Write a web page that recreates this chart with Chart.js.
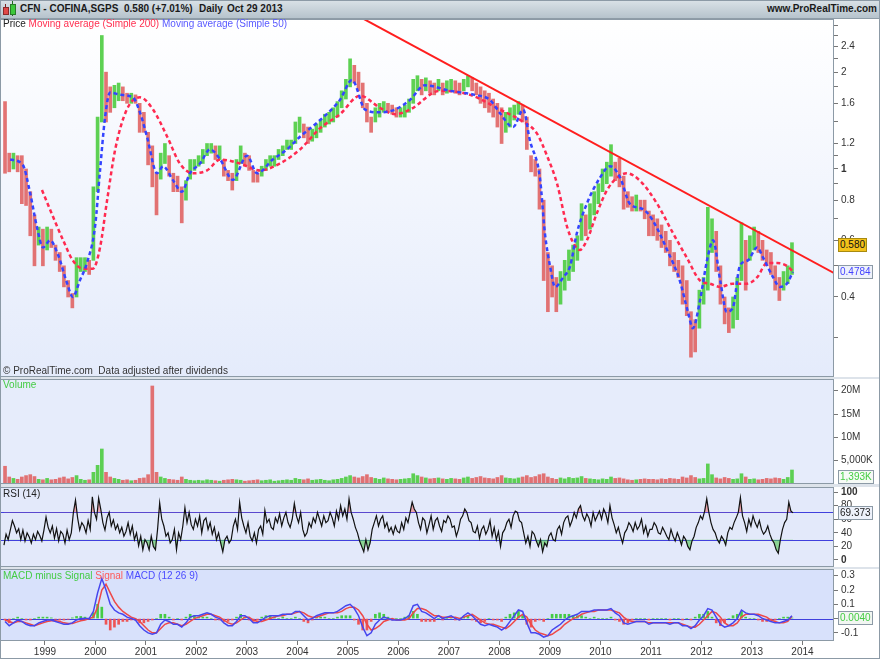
<!DOCTYPE html>
<html>
<head>
<meta charset="utf-8">
<title>CFN - COFINA,SGPS</title>
<script src="https://cdn.jsdelivr.net/npm/chart.js@4.4.1/dist/chart.umd.min.js"></script>
<style>
  body { margin: 0; background: #ffffff; }
  #wrap { position: relative; width: 880px; height: 659px; overflow: hidden; background: #dde3ea;
          font-family: "Liberation Sans", Arial, sans-serif; font-size: 10px; }
  canvas { position: absolute; left: 0; }
  #head { position: absolute; left: 0; top: 0; width: 880px; height: 18px; z-index: 2;
          background: linear-gradient(#dae2e7, #b6c3cc); border-bottom: 1px solid #8e9ca7; }
  .h { position: absolute; top: 3px; font-weight: bold; font-size: 10px; color: #1a1a1a; white-space: nowrap; line-height: 12px; }
  .lbl { position: absolute; left: 3px; white-space: nowrap; line-height: 12px; font-size: 10px; z-index: 2; }
  .box { position: absolute; left: 838px; font-size: 10px; line-height: 10px; padding: 1px 1px; border: 1px solid #8c9aa6; z-index: 3; white-space: nowrap; }
  #frame { position: absolute; left: 0; top: 0; width: 878px; height: 657px; border: 1px solid #8c9aa6; z-index: 4; pointer-events: none; }
</style>
</head>
<body>
<div id="wrap">
  <canvas id="cPrice" width="880" height="358" style="top:19px"></canvas>
  <canvas id="cVol" width="880" height="105" style="top:379px"></canvas>
  <canvas id="cRsi" width="880" height="80" style="top:487px"></canvas>
  <canvas id="cMacd" width="880" height="90" style="top:569px"></canvas>

  <div id="head">
    <div style="position:absolute;left:5px;top:4px;width:1px;height:11px;background:#7a2020"></div>
    <div style="position:absolute;left:3px;top:7px;width:4px;height:6px;background:#e04848;border:1px solid #8a2a2a"></div>
    <div style="position:absolute;left:12px;top:1px;width:1px;height:15px;background:#206a20"></div>
    <div style="position:absolute;left:10px;top:4px;width:4px;height:9px;background:#3cc83c;border:1px solid #2a7a2a"></div>
    <span class="h" style="left:20px">CFN - COFINA,SGPS</span>
    <span class="h" style="left:124px">0.580 (+7.01%)</span>
    <span class="h" style="left:199px">Daily</span>
    <span class="h" style="left:227px">Oct 29 2013</span>
    <span class="h" style="right:3px">www.ProRealTime.com</span>
  </div>

  <div class="lbl" style="top:18px"><span style="color:#222">Price</span> <span style="color:#ff3050">Moving average (Simple 200)</span> <span style="color:#5a5aff">Moving average (Simple 50)</span></div>
  <div class="lbl" style="top:365px;color:#333">&copy; ProRealTime.com&nbsp; Data adjusted after dividends</div>
  <div class="lbl" style="top:379px;color:#44cc44">Volume</div>
  <div class="lbl" style="top:488px;color:#222">RSI (14)</div>
  <div class="lbl" style="top:570px"><span style="color:#44cc44">MACD minus Signal</span> <span style="color:#ff5a5a">Signal</span> <span style="color:#4a4aff">MACD (12 26 9)</span></div>

  <div class="box" id="bClose" style="background:#f3c21a;color:#111;border-color:#a88a10">0.580</div>
  <div class="box" id="bMa" style="background:#eef2fb;color:#4444ff">0.4784</div>
  <div class="box" id="bVol" style="background:#f6faf6;color:#44cc44">1,393K</div>
  <div class="box" id="bRsi" style="background:#eef2fb;color:#222">69.373</div>
  <div class="box" id="bMacd" style="background:#f2f6f2;color:#44cc44">0.0040</div>
  <div id="frame"></div>
</div>

<script>
// time axis: decimal years
var xMin = 1998.109;
var xMax = 2014.624;
var firstMonth = 1998 + 2 / 12; // March 1998
var yearTicks = [1999, 2000, 2001, 2002, 2003, 2004, 2005, 2006, 2007, 2008, 2009, 2010, 2011, 2012, 2013, 2014];

// monthly price range (low / high), Mar 1998 .. Oct 2013
var priceLow = [
  0.97, 0.98, 1.00, 0.98, 0.78, 0.77, 0.62, 0.50, 0.58, 0.50,              // 1998
  0.56, 0.57, 0.52, 0.48, 0.43, 0.40, 0.37, 0.40, 0.48, 0.48, 0.47, 0.52,  // 1999
  0.85, 1.40, 1.40, 1.50, 1.55, 1.63, 1.63, 1.60, 1.60, 1.60, 1.30, 1.30,  // 2000
  1.03, 0.88, 0.72, 0.93, 1.04, 0.95, 0.85, 0.85, 0.68, 0.80, 0.93, 0.99,  // 2001
  1.02, 1.04, 1.10, 1.12, 1.07, 1.07, 0.95, 0.92, 0.86, 0.92, 1.04, 1.02,  // 2002
  0.99, 0.91, 0.91, 0.95, 0.99, 1.02, 1.02, 1.07, 1.10, 1.15, 1.15, 1.20,  // 2003
  1.30, 1.25, 1.20, 1.22, 1.25, 1.30, 1.35, 1.38, 1.40, 1.45, 1.55, 1.65,  // 2004
  1.80, 1.85, 1.75, 1.55, 1.40, 1.30, 1.40, 1.45, 1.50, 1.50, 1.48, 1.45,  // 2005
  1.45, 1.45, 1.50, 1.60, 1.75, 1.70, 1.75, 1.72, 1.70, 1.75, 1.70, 1.72,  // 2006
  1.75, 1.72, 1.70, 1.75, 1.80, 1.75, 1.70, 1.60, 1.55, 1.50, 1.45, 1.35,  // 2007
  1.20, 1.30, 1.35, 1.42, 1.48, 1.40, 1.15, 0.98, 0.95, 0.75, 0.45, 0.36,  // 2008
  0.40, 0.36, 0.38, 0.42, 0.45, 0.48, 0.52, 0.60, 0.62, 0.65, 0.72, 0.78,  // 2009
  0.85, 0.90, 0.95, 0.92, 0.88, 0.75, 0.76, 0.74, 0.74, 0.74, 0.70, 0.62,  // 2010
  0.62, 0.60, 0.57, 0.55, 0.50, 0.48, 0.46, 0.38, 0.35, 0.26, 0.27, 0.32,  // 2011
  0.38, 0.42, 0.55, 0.48, 0.38, 0.33, 0.31, 0.32, 0.34, 0.45, 0.42, 0.52,  // 2012
  0.56, 0.55, 0.52, 0.50, 0.47, 0.42, 0.39, 0.42, 0.44, 0.47               // 2013
];
var priceHigh = [
  1.62, 1.12, 1.12, 1.10, 1.10, 1.00, 0.85, 0.72, 0.66, 0.65,
  0.66, 0.65, 0.58, 0.55, 0.50, 0.45, 0.41, 0.53, 0.53, 0.53, 0.52, 0.88,
  1.45, 2.60, 2.00, 1.80, 1.82, 1.85, 1.80, 1.72, 1.72, 1.70, 1.60, 1.50,
  1.30, 1.18, 0.97, 1.12, 1.20, 1.10, 0.97, 0.95, 0.88, 0.92, 1.07, 1.07,
  1.10, 1.15, 1.20, 1.20, 1.18, 1.18, 1.07, 0.99, 0.97, 1.07, 1.18, 1.12,
  1.10, 0.99, 0.97, 1.02, 1.07, 1.10, 1.10, 1.15, 1.18, 1.23, 1.23, 1.40,
  1.45, 1.38, 1.35, 1.33, 1.38, 1.42, 1.48, 1.50, 1.55, 1.62, 1.75, 1.90,
  2.20, 2.10, 2.00, 1.85, 1.60, 1.45, 1.55, 1.60, 1.62, 1.60, 1.58, 1.55,
  1.55, 1.58, 1.65, 1.90, 1.95, 1.90, 1.92, 1.88, 1.85, 1.90, 1.85, 1.88,
  1.90, 1.88, 1.85, 1.90, 1.95, 1.92, 1.85, 1.80, 1.75, 1.72, 1.65, 1.60,
  1.55, 1.50, 1.55, 1.58, 1.62, 1.58, 1.45, 1.10, 1.07, 1.00, 0.80, 0.55,
  0.50, 0.46, 0.48, 0.52, 0.56, 0.58, 0.62, 0.78, 0.72, 0.78, 0.85, 0.90,
  1.00, 1.05, 1.19, 1.05, 1.08, 0.95, 0.85, 0.82, 0.83, 0.80, 0.80, 0.74,
  0.72, 0.70, 0.67, 0.64, 0.60, 0.55, 0.52, 0.50, 0.45, 0.36, 0.34, 0.42,
  0.46, 0.76, 0.70, 0.64, 0.50, 0.40, 0.37, 0.40, 0.46, 0.68, 0.60, 0.62,
  0.66, 0.64, 0.60, 0.56, 0.55, 0.50, 0.46, 0.48, 0.50, 0.59
];

// moving averages
var ma200Dates = [1998.94, 1999.16, 1999.36, 1999.55, 1999.75, 1999.95, 2000.09, 2000.23, 2000.39, 2000.62,
  2000.88, 2001.14, 2001.42, 2001.67, 2001.93, 2002.21, 2002.47, 2002.86, 2003.26, 2003.65,
  2004.05, 2004.45, 2004.84, 2005.24, 2005.63, 2005.93, 2006.23, 2006.82, 2007.42, 2008.01,
  2008.41, 2008.74, 2008.94, 2009.14, 2009.34, 2009.46, 2009.59, 2009.73, 2009.93, 2010.13,
  2010.33, 2010.52, 2010.78, 2011.12, 2011.44, 2011.71, 2011.97, 2012.17, 2012.37, 2012.62,
  2012.90, 2013.10, 2013.30, 2013.50, 2013.69, 2013.81];
var ma200Values = [0.86, 0.71, 0.60, 0.52, 0.49, 0.49, 0.57, 0.80, 1.15, 1.53,
  1.67, 1.53, 1.26, 1.04, 0.97, 0.99, 1.07, 1.04, 0.99, 1.04,
  1.15, 1.34, 1.48, 1.69, 1.55, 1.48, 1.53, 1.75, 1.70, 1.53,
  1.42, 1.29, 1.10, 0.90, 0.66, 0.59, 0.56, 0.60, 0.73, 0.86,
  0.94, 0.97, 0.92, 0.78, 0.63, 0.53, 0.45, 0.44, 0.43, 0.44,
  0.44, 0.46, 0.51, 0.51, 0.50, 0.48];
var ma50Dates = [1998.31, 1998.56, 1998.70, 1998.84, 1998.96, 1999.10, 1999.26, 1999.44, 1999.55, 1999.69,
  1999.83, 1999.99, 2000.09, 2000.19, 2000.29, 2000.49, 2000.74, 2000.88, 2001.02, 2001.22,
  2001.34, 2001.53, 2001.71, 2001.87, 2002.07, 2002.27, 2002.47, 2002.72, 2003.00, 2003.20,
  2003.51, 2003.79, 2004.05, 2004.45, 2004.84, 2005.08, 2005.34, 2005.63, 2005.93, 2006.23,
  2006.52, 2007.02, 2007.51, 2007.81, 2008.01, 2008.27, 2008.47, 2008.60, 2008.80, 2008.90,
  2009.00, 2009.10, 2009.26, 2009.40, 2009.53, 2009.73, 2009.99, 2010.19, 2010.39, 2010.58,
  2010.84, 2011.04, 2011.32, 2011.57, 2011.73, 2011.83, 2011.97, 2012.11, 2012.23, 2012.37,
  2012.50, 2012.62, 2012.76, 2012.92, 2013.10, 2013.22, 2013.42, 2013.55, 2013.69, 2013.81];
var ma50Values = [1.07, 1.03, 0.85, 0.66, 0.57, 0.60, 0.54, 0.44, 0.40, 0.45,
  0.51, 0.66, 0.99, 1.45, 1.73, 1.70, 1.67, 1.50, 1.26, 0.97,
  1.02, 0.925, 0.85, 0.97, 1.04, 1.15, 1.07, 0.925, 1.10, 0.97,
  1.07, 1.15, 1.26, 1.42, 1.64, 1.89, 1.53, 1.50, 1.53, 1.64,
  1.82, 1.75, 1.70, 1.64, 1.49, 1.35, 1.53, 1.23, 0.94, 0.63,
  0.50, 0.43, 0.46, 0.50, 0.63, 0.78, 0.94, 1.02, 0.94, 0.78,
  0.75, 0.69, 0.56, 0.45, 0.36, 0.32, 0.39, 0.52, 0.60, 0.45,
  0.36, 0.37, 0.50, 0.52, 0.57, 0.53, 0.46, 0.43, 0.44, 0.4784];

// hand drawn resistance line
var trendDates = [2005.0, 2014.62];
var trendValues = [3.11, 0.475];

// monthly peak volume, millions
var volume = [
  3.8, 1.5, 1.2, 1.0, 1.5, 1.8, 2.0, 1.6, 1.0, 0.9,
  1.2, 0.9, 1.0, 1.3, 1.5, 1.1, 1.4, 1.8, 1.0, 0.8, 0.9, 2.5,
  4.0, 7.5, 2.5, 1.5, 1.2, 1.0, 0.8, 0.9, 0.7, 0.8, 1.2, 1.3,
  2.0, 21.0, 2.5, 1.5, 1.2, 1.0, 0.9, 0.8, 1.5, 1.0, 0.8, 0.7,
  0.8, 0.7, 0.9, 0.8, 0.7, 0.6, 0.8, 0.9, 1.0, 0.9, 0.8, 0.6,
  0.7, 0.8, 0.9, 0.7, 0.8, 0.9, 0.6, 0.7, 0.8, 0.9, 0.8, 1.2,
  1.0, 0.9, 1.1, 0.8, 0.9, 1.0, 0.8, 0.7, 0.9, 1.0, 1.2, 1.5,
  1.8, 1.5, 1.3, 1.6, 2.0, 1.4, 1.2, 1.0, 1.3, 1.1, 1.0, 0.9,
  1.0, 1.1, 1.2, 2.2, 1.8, 1.5, 1.3, 1.1, 1.2, 1.3, 1.1, 1.0,
  1.2, 1.1, 1.0, 1.3, 1.5, 1.2, 1.4, 1.6, 1.3, 1.2, 1.1, 1.4,
  1.8, 1.3, 1.2, 1.1, 1.3, 1.5, 1.8, 1.4, 1.6, 2.0, 2.2, 1.5,
  1.2, 1.0, 1.3, 1.1, 1.4, 1.2, 1.3, 1.6, 1.2, 1.1, 1.0, 0.9,
  1.1, 1.0, 1.5, 1.2, 1.3, 1.1, 0.9, 0.8, 0.9, 1.0, 1.1, 1.0,
  1.0, 0.9, 1.1, 1.0, 1.2, 1.1, 1.0, 1.5, 1.3, 1.8, 1.4, 1.1,
  1.2, 4.3, 2.0, 1.3, 1.1, 1.4, 1.2, 1.0, 1.1, 2.2, 1.5, 1.0,
  1.1, 0.9, 1.0, 1.2, 1.1, 1.3, 1.2, 1.0, 1.4, 3.0
];

// RSI(14), two readings per month
var rsi = [
  22, 38, 30, 44, 58, 50, 40, 46, 30, 44, 28, 40, 34, 25, 38, 30, 42, 36, 28, 44,
  63, 48, 40, 50, 32, 46, 28, 42, 38, 25, 44, 30, 40, 70, 88, 62, 44, 55, 50, 40, 58, 45, 93, 70,
  60, 91, 75, 55, 44, 62, 70, 50, 59, 45, 52, 40, 48, 35, 42, 55, 38, 50, 30, 40, 21, 35, 15, 30,
  25, 15, 35, 20, 15, 45, 84, 60, 50, 35, 40, 25, 30, 45, 15, 40, 30, 50, 77, 55, 70, 52, 45, 60,
  50, 65, 40, 58, 62, 45, 55, 38, 48, 30, 40, 25, 12, 30, 35, 25, 30, 50, 60, 45, 85, 62, 50, 40,
  55, 35, 28, 40, 25, 45, 50, 38, 73, 55, 60, 48, 45, 62, 55, 68, 50, 62, 70, 55, 48, 60, 83, 65,
  55, 70, 45, 35, 40, 55, 48, 62, 55, 70, 60, 50, 65, 55, 58, 70, 62, 50, 72, 60, 80, 65, 75, 60,
  90, 70, 60, 48, 40, 28, 20, 12, 30, 15, 25, 45, 55, 65, 50, 60, 65, 48, 55, 42, 48, 38, 50, 42,
  40, 55, 45, 62, 55, 70, 85, 75, 70, 55, 45, 62, 58, 40, 52, 65, 45, 58, 62, 50, 42, 58, 55, 65,
  60, 48, 50, 35, 45, 60, 65, 75, 70, 58, 55, 42, 40, 50, 32, 45, 50, 38, 45, 58, 35, 48, 30, 42,
  20, 40, 45, 55, 60, 48, 65, 72, 70, 58, 55, 40, 25, 35, 20, 42, 38, 28, 20, 30, 12, 25, 20, 35,
  40, 30, 28, 45, 50, 38, 55, 62, 65, 50, 58, 70, 62, 75, 80, 65, 58, 68, 62, 50, 70, 58, 65, 72,
  60, 75, 68, 55, 80, 62, 52, 40, 48, 35, 25, 40, 45, 55, 50, 42, 55, 45, 50, 60, 40, 50, 35, 45,
  45, 55, 50, 40, 38, 48, 42, 35, 30, 45, 35, 28, 40, 32, 22, 35, 30, 20, 15, 28, 35, 48, 55, 65,
  60, 72, 90, 70, 55, 45, 40, 30, 25, 35, 30, 22, 40, 48, 45, 55, 62, 70, 92, 65, 55, 42, 60, 50,
  65, 55, 48, 58, 45, 38, 42, 50, 38, 30, 25, 15, 10, 30, 45, 55, 60, 85, 72, 69.37
];

// MACD (12 26 9), monthly
var macd = [
  -0.02, -0.05, -0.03, -0.01, -0.02, -0.04, -0.05, -0.05, -0.03, -0.02,
  -0.01, -0.01, -0.02, -0.03, -0.04, -0.04, -0.03, -0.01, 0.00, 0.00, 0.00, 0.05,
  0.18, 0.28, 0.20, 0.10, 0.06, 0.04, 0.03, 0.01, 0.00, -0.01, -0.05, -0.08,
  -0.10, -0.11, -0.10, -0.04, -0.01, -0.02, -0.04, -0.04, -0.06, -0.03, 0.01, 0.02,
  0.02, 0.03, 0.04, 0.03, 0.01, 0.00, -0.03, -0.05, -0.05, -0.02, 0.02, 0.02,
  0.00, -0.03, -0.03, -0.01, 0.01, 0.02, 0.02, 0.02, 0.03, 0.03, 0.03, 0.05,
  0.05, 0.02, -0.01, 0.00, 0.02, 0.03, 0.04, 0.04, 0.04, 0.05, 0.07, 0.09,
  0.10, 0.07, 0.02, -0.06, -0.12, -0.10, -0.04, -0.01, 0.01, 0.00, -0.01, -0.01,
  -0.01, 0.00, 0.02, 0.09, 0.10, 0.05, 0.04, 0.02, 0.00, 0.02, 0.00, 0.01,
  0.02, 0.00, -0.01, 0.02, 0.04, 0.02, -0.01, -0.04, -0.05, -0.04, -0.05, -0.06,
  -0.08, -0.06, -0.02, 0.02, 0.06, 0.05, -0.03, -0.10, -0.10, -0.11, -0.13, -0.12,
  -0.08, -0.06, -0.04, -0.01, 0.01, 0.02, 0.03, 0.05, 0.05, 0.05, 0.06, 0.06,
  0.06, 0.06, 0.07, 0.04, 0.02, -0.03, -0.04, -0.03, -0.02, -0.02, -0.02, -0.04,
  -0.03, -0.03, -0.03, -0.03, -0.04, -0.03, -0.03, -0.05, -0.05, -0.07, -0.05, -0.01,
  0.02, 0.07, 0.06, 0.01, -0.04, -0.06, -0.05, -0.03, 0.00, 0.06, 0.04, 0.03,
  0.03, 0.02, 0.00, -0.01, -0.02, -0.03, -0.03, -0.02, -0.01, 0.02
];
var macdSignal = [
  -0.01, -0.02, -0.03, -0.02, -0.02, -0.03, -0.04, -0.05, -0.04, -0.03,
  -0.02, -0.015, -0.015, -0.02, -0.03, -0.035, -0.035, -0.025, -0.015, -0.01, 0.00, 0.01,
  0.08, 0.20, 0.24, 0.18, 0.12, 0.08, 0.05, 0.03, 0.01, 0.00, -0.02, -0.05,
  -0.08, -0.10, -0.10, -0.07, -0.04, -0.03, -0.03, -0.04, -0.05, -0.04, -0.02, 0.00,
  0.01, 0.02, 0.03, 0.03, 0.02, 0.01, -0.01, -0.03, -0.04, -0.03, -0.01, 0.01,
  0.01, -0.01, -0.02, -0.02, -0.01, 0.00, 0.01, 0.02, 0.02, 0.03, 0.03, 0.04,
  0.05, 0.04, 0.02, 0.01, 0.01, 0.02, 0.03, 0.04, 0.04, 0.04, 0.05, 0.07,
  0.08, 0.08, 0.06, 0.02, -0.04, -0.08, -0.07, -0.05, -0.02, -0.01, 0.00, -0.01,
  -0.01, -0.01, 0.00, 0.04, 0.07, 0.07, 0.06, 0.04, 0.02, 0.02, 0.01, 0.01,
  0.01, 0.01, 0.00, 0.01, 0.02, 0.03, 0.01, -0.01, -0.03, -0.04, -0.04, -0.05,
  -0.06, -0.07, -0.05, -0.02, 0.01, 0.03, 0.01, -0.04, -0.08, -0.10, -0.11, -0.12,
  -0.11, -0.09, -0.07, -0.04, -0.02, 0.00, 0.01, 0.03, 0.04, 0.05, 0.05, 0.06,
  0.06, 0.06, 0.06, 0.05, 0.04, 0.01, -0.01, -0.02, -0.02, -0.02, -0.02, -0.03,
  -0.03, -0.03, -0.03, -0.03, -0.03, -0.03, -0.03, -0.04, -0.05, -0.06, -0.06, -0.04,
  -0.01, 0.02, 0.05, 0.04, 0.01, -0.03, -0.05, -0.05, -0.03, 0.01, 0.03, 0.03,
  0.03, 0.03, 0.02, 0.01, -0.01, -0.02, -0.03, -0.03, -0.02, 0.016
];
var macdHist = [
  -0.01, -0.03, 0.00, 0.01, 0.00, -0.01, -0.01, 0.00, 0.01, 0.01,
  0.01, 0.005, -0.005, -0.01, -0.01, -0.005, 0.005, 0.015, 0.015, 0.01, 0.00, 0.04,
  0.10, 0.08, -0.04, -0.08, -0.06, -0.04, -0.02, -0.02, -0.01, -0.01, -0.03, -0.03,
  -0.02, -0.01, 0.00, 0.03, 0.03, 0.01, -0.01, 0.00, -0.01, 0.01, 0.03, 0.02,
  0.01, 0.01, 0.01, 0.00, -0.01, -0.01, -0.02, -0.02, -0.01, 0.01, 0.03, 0.01,
  -0.01, -0.02, -0.01, 0.01, 0.02, 0.02, 0.01, 0.00, 0.01, 0.00, 0.00, 0.01,
  0.00, -0.02, -0.03, -0.01, 0.01, 0.01, 0.01, 0.00, 0.00, 0.01, 0.02, 0.02,
  0.02, -0.01, -0.04, -0.08, -0.08, -0.02, 0.03, 0.04, 0.03, 0.01, -0.01, 0.00,
  0.00, 0.01, 0.02, 0.05, 0.03, -0.02, -0.02, -0.02, -0.02, 0.00, -0.01, 0.00,
  0.01, -0.01, -0.01, 0.01, 0.02, -0.01, -0.02, -0.03, -0.02, 0.00, -0.01, -0.01,
  -0.02, 0.01, 0.03, 0.04, 0.05, 0.02, -0.04, -0.06, -0.02, -0.01, -0.02, 0.00,
  0.03, 0.03, 0.03, 0.03, 0.03, 0.02, 0.02, 0.02, 0.01, 0.00, 0.01, 0.00,
  0.00, 0.00, 0.01, -0.01, -0.02, -0.04, -0.03, -0.01, 0.00, 0.00, 0.00, -0.01,
  0.00, 0.00, 0.00, 0.00, -0.01, 0.00, 0.00, -0.01, 0.00, -0.01, 0.01, 0.03,
  0.03, 0.05, 0.01, -0.03, -0.05, -0.03, 0.00, 0.02, 0.03, 0.05, 0.01, 0.00,
  0.00, -0.01, -0.02, -0.02, -0.01, -0.01, 0.00, 0.01, 0.01, 0.004
];

// axis ticks
var priceTicks = [0.3, 0.4, 0.5, 0.6, 0.7, 0.8, 0.9, 1, 1.1, 1.2, 1.4, 1.6, 1.8, 2, 2.2, 2.4, 2.6, 2.8];
var priceTickLabels = ['', '0.4', '', '0.6', '', '0.8', '', '1', '', '1.2', '', '1.6', '', '2', '', '2.4', '', ''];
var volTicks = [5, 10, 15, 20];
var volTickLabels = ['5,000K', '10M', '15M', '20M'];
var rsiTicks = [0, 20, 40, 60, 80, 100];
var macdTicks = [-0.1, 0, 0.1, 0.2, 0.3];

// last values shown in the boxes on the right
var lastClose = 0.580, lastMa50 = 0.4784, lastVolume = 1.393, lastRsi = 69.373, lastHist = 0.0040;

Chart.defaults.font.family = '"Liberation Sans", Arial, sans-serif';
Chart.defaults.font.size = 10;
Chart.defaults.color = '#333';

var upColor = 'rgba(76,204,64,0.9)';
var downColor = 'rgba(224,100,100,0.9)';

function monthX(i) { return firstMonth + (i + 0.5) / 12; }

var priceColors = priceLow.map(function(lo, i) {
  if (i === 0) return downColor;
  var mid = (lo + priceHigh[i]) / 2;
  var prev = (priceLow[i - 1] + priceHigh[i - 1]) / 2;
  return mid >= prev ? upColor : downColor;
});

function pts(xs, ys) { return xs.map(function(x, i) { return { x: x, y: ys[i] }; }); }

// background, border and reference lines of one panel
function panelDecor(opts) {
  return {
    id: 'panelDecor',
    beforeDraw: function(chart) {
      var c = chart.ctx, a = chart.chartArea;
      c.save();
      c.fillStyle = '#ffffff';
      c.fillRect(0, 0, chart.width, chart.height);
      if (opts.gradient) {
        var g = c.createLinearGradient(0, a.top, 0, a.bottom);
        g.addColorStop(0, opts.gradient[0]);
        g.addColorStop(1, opts.gradient[1]);
        c.fillStyle = g;
      } else {
        c.fillStyle = opts.bg;
      }
      c.fillRect(a.left, a.top, a.right - a.left, a.bottom - a.top);
      c.restore();
    },
    beforeDatasetsDraw: function(chart) {
      var c = chart.ctx, a = chart.chartArea;
      (opts.lines || []).forEach(function(v) {
        var y = Math.round(chart.scales.y.getPixelForValue(v)) + 0.5;
        c.save();
        c.strokeStyle = '#4040dd';
        c.lineWidth = 1;
        c.beginPath();
        c.moveTo(a.left, y);
        c.lineTo(a.right, y);
        c.stroke();
        c.restore();
      });
    },
    afterDraw: function(chart) {
      var c = chart.ctx, a = chart.chartArea;
      c.save();
      c.strokeStyle = '#8c9aa6';
      c.lineWidth = 1;
      c.strokeRect(a.left + 0.5, a.top + 0.5, a.right - a.left - 1, a.bottom - a.top - 1);
      c.restore();
    }
  };
}

function xScale(show) {
  return {
    type: 'linear', min: xMin, max: xMax, offset: false, display: show,
    grid: { drawOnChartArea: false, offset: false, tickLength: 4, color: '#777' },
    border: { display: false },
    afterBuildTicks: function(s) { s.ticks = yearTicks.map(function(v) { return { value: v }; }); },
    afterFit: function(s) {
      s.height = show ? 18 : 0;
      s.paddingLeft = 0; s.paddingRight = 0;
    },
    ticks: { autoSkip: false, maxRotation: 0, padding: 1, color: '#333', font: { size: 10 },
             callback: function(v) { return String(v); } }
  };
}

function yScale(type, min, max, ticks, labels, boldValues) {
  return {
    type: type, position: 'right', min: min, max: max, beginAtZero: false,
    grid: { drawOnChartArea: false, tickLength: 4, color: '#777' },
    border: { display: false },
    afterBuildTicks: function(s) { s.ticks = ticks.map(function(v) { return { value: v }; }); },
    afterFit: function(s) { s.width = 46; s.paddingTop = 0; s.paddingBottom = 0; },
    ticks: {
      autoSkip: false, padding: 3, color: '#333',
      font: function(ctx) {
        var bold = ctx.tick && boldValues.indexOf(ctx.tick.value) >= 0;
        return { size: 10, weight: bold ? 'bold' : 'normal' };
      },
      callback: function(v, i) { return labels ? labels[i] : String(v); }
    }
  };
}

var baseOptions = {
  responsive: false, animation: false, events: [],
  layout: { padding: 0 },
  plugins: { legend: { display: false }, tooltip: { enabled: false } }
};

function opts(scales) {
  return Object.assign({}, baseOptions, { scales: scales });
}

// price panel
var priceChart = new Chart(document.getElementById('cPrice'), {
  type: 'bar',
  data: {
    datasets: [
      { type: 'line', data: pts(trendDates, trendValues), borderColor: '#ff1e1e', borderWidth: 2, pointRadius: 0 },
      { type: 'line', data: pts(ma50Dates, ma50Values), borderColor: '#3444ff', borderWidth: 2.5, borderDash: [4, 3],
        pointRadius: 0, cubicInterpolationMode: 'monotone' },
      { type: 'line', data: pts(ma200Dates, ma200Values), borderColor: '#ff2a50', borderWidth: 2.5, borderDash: [4, 3],
        pointRadius: 0, cubicInterpolationMode: 'monotone' },
      { type: 'bar', data: priceLow.map(function(lo, i) { return { x: monthX(i), y: [lo, priceHigh[i]] }; }),
        backgroundColor: priceColors, barThickness: 3, grouped: false }
    ]
  },
  options: opts({
    x: xScale(false),
    y: yScale('logarithmic', 0.2256, 2.926, priceTicks, priceTickLabels, [1])
  }),
  plugins: [panelDecor({ gradient: ['#ffffff', '#e4ebfb'] })]
});

// volume panel
var volChart = new Chart(document.getElementById('cVol'), {
  type: 'bar',
  data: {
    datasets: [
      { data: volume.map(function(v, i) { return { x: monthX(i), y: v }; }),
        backgroundColor: priceColors, barThickness: 3, grouped: false }
    ]
  },
  options: opts({
    x: xScale(false),
    y: yScale('linear', 0, 22.5, volTicks, volTickLabels, [])
  }),
  plugins: [panelDecor({ bg: '#e6ecfb' })]
});

// RSI panel
var rsiPts = rsi.map(function(v, k) { return { x: firstMonth + (k + 0.5) / 24, y: v }; });
var rsiChart = new Chart(document.getElementById('cRsi'), {
  type: 'line',
  data: {
    datasets: [
      { data: rsiPts, borderColor: '#111', borderWidth: 1.2, pointRadius: 0,
        fill: { target: { value: 70 }, above: 'rgba(240,120,120,0.6)', below: 'rgba(0,0,0,0)' } },
      { data: rsiPts, borderWidth: 0, borderColor: 'rgba(0,0,0,0)', pointRadius: 0,
        fill: { target: { value: 30 }, above: 'rgba(0,0,0,0)', below: 'rgba(80,200,80,0.6)' } }
    ]
  },
  options: opts({
    x: xScale(false),
    y: yScale('linear', -10.3, 107.4, rsiTicks, null, [0, 100])
  }),
  plugins: [panelDecor({ bg: '#e3e9fa', lines: [70, 30] })]
});

// MACD panel
var macdChart = new Chart(document.getElementById('cMacd'), {
  type: 'bar',
  data: {
    datasets: [
      { type: 'line', data: macd.map(function(v, i) { return { x: monthX(i), y: v }; }),
        borderColor: '#4646ee', borderWidth: 1.5, pointRadius: 0 },
      { type: 'line', data: macdSignal.map(function(v, i) { return { x: monthX(i), y: v }; }),
        borderColor: '#ee4848', borderWidth: 1.5, pointRadius: 0 },
      { type: 'bar', data: macdHist.map(function(v, i) { return { x: monthX(i), y: v }; }),
        backgroundColor: macdHist.map(function(v) { return v >= 0 ? '#44cc44' : '#ee5555'; }),
        barThickness: 2, grouped: false }
    ]
  },
  options: opts({
    x: xScale(true),
    y: yScale('linear', -0.157, 0.347, macdTicks, null, [])
  }),
  plugins: [panelDecor({ bg: '#d8e1fb', lines: [0] })]
});

// value boxes on the right axis
function placeBox(id, chart, top, value) {
  var el = document.getElementById(id);
  var y = chart.scales.y.getPixelForValue(value) + top;
  el.style.top = Math.round(y - el.offsetHeight / 2) + 'px';
}
placeBox('bClose', priceChart, 19, lastClose);
placeBox('bMa', priceChart, 19, lastMa50);
placeBox('bVol', volChart, 379, lastVolume);
placeBox('bRsi', rsiChart, 487, lastRsi);
placeBox('bMacd', macdChart, 569, lastHist);
</script>
</body>
</html>
